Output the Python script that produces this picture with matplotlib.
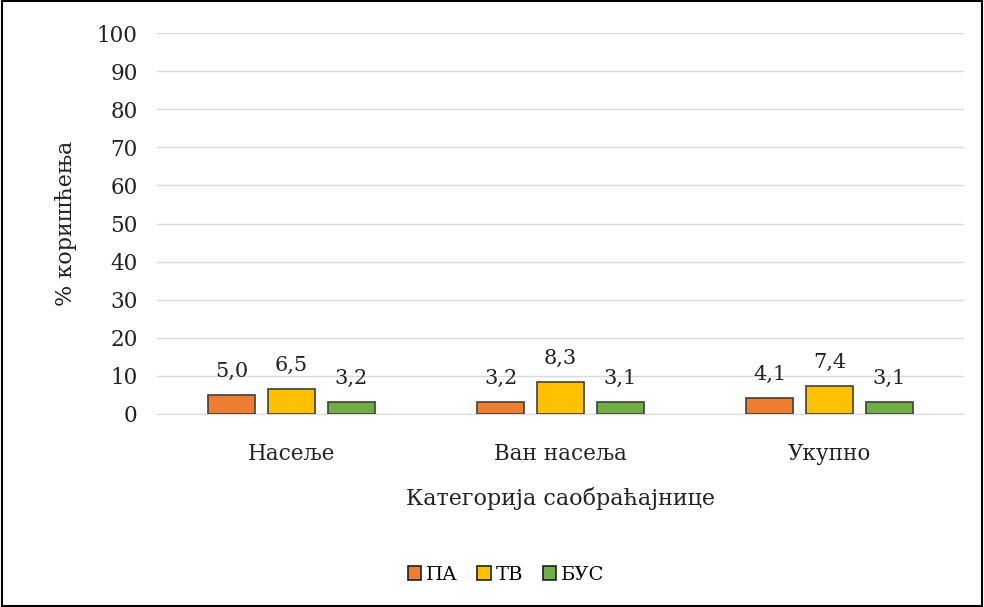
import matplotlib
matplotlib.use("Agg")
import matplotlib.pyplot as plt
from matplotlib.patches import Rectangle
import numpy as np

categories = ["Насеље", "Ван насеља", "Укупно"]
series = ["ПА", "ТВ", "БУС"]
pa = [5.0, 3.2, 4.1]
tv = [6.5, 8.3, 7.4]
bus = [3.2, 3.1, 3.1]
colors = ["#ED7D31", "#FFC000", "#70AD47"]

plt.rcParams['font.family'] = ['DejaVu Serif']

fig = plt.figure(figsize=(9.84, 6.07), dpi=100)
ax = fig.add_axes([157 / 984, 1 - 414 / 607, (964 - 157) / 984, (414 - 33) / 607])

x = np.arange(len(categories))
width = 0.178
step = 0.223
for i, (name, vals) in enumerate(zip(series, [pa, tv, bus])):
    bars = ax.bar(x + (i - 1) * step, vals, width, color=colors[i],
                  edgecolor="#404040", linewidth=1.2, label=name, zorder=3)
    for b, v in zip(bars, vals):
        ax.annotate(f"{v:.1f}".replace(".", ","),
                    (b.get_x() + b.get_width() / 2, v),
                    xytext=(0, 17), textcoords="offset points",
                    ha="center", va="center", fontsize=15, color="#222222")

ax.set_xlim(-0.5, 2.5)
ax.set_ylim(0, 100)
ax.set_yticks(range(0, 101, 10))
ax.set_xticks(x)
ax.set_xticklabels(categories)
ax.tick_params(axis="both", length=0, labelsize=15.5, colors="#222222")
ax.tick_params(axis="x", pad=21)
ax.tick_params(axis="y", pad=14)
ax.grid(axis="y", color="#D9D9D9", linewidth=1, zorder=0)
for s in ["top", "right", "left"]:
    ax.spines[s].set_visible(False)
ax.spines["bottom"].set_color("#D9D9D9")

ax.set_xlabel("Категорија саобраћајнице", fontsize=16, color="#222222", labelpad=16)
ax.set_ylabel("% коришћења", fontsize=16, color="#222222", labelpad=14)

leg = ax.legend(loc="center", bbox_to_anchor=(506 / 984, 1 - 575 / 607),
                bbox_transform=fig.transFigure, ncol=3, frameon=False,
                fontsize=14, handlelength=0.7, handleheight=0.7,
                handletextpad=0.25, columnspacing=1.0)
for h in leg.legend_handles:
    h.set_edgecolor("#202020")

fig.patches.append(Rectangle((0.002, 0.002), 0.996, 0.996, transform=fig.transFigure,
                             fill=False, edgecolor="black", linewidth=1.5))

fig.savefig("out.png", dpi=100)
